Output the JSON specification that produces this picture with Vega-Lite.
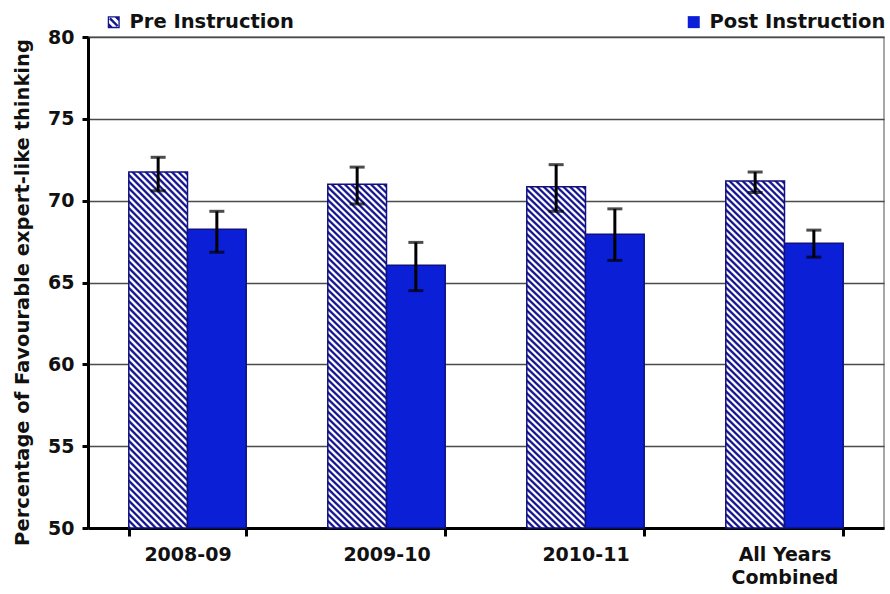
{
  "$schema": "https://vega.github.io/schema/vega-lite/v6.json",
  "width": 796,
  "height": 491,
  "autosize": {"type": "none"},
  "padding": {"left": 88, "top": 37, "right": 6, "bottom": 66},
  "background": "white",
  "config": {
    "font": "DejaVu Sans",
    "view": {"stroke": "#8a8a8a", "strokeWidth": 1.5},
    "legend": {
      "orient": "none",
      "legendX": 16,
      "legendY": -25,
      "direction": "horizontal",
      "columns": 2,
      "columnPadding": 390,
      "symbolSize": 144,
      "symbolOpacity": 1,
      "symbolStrokeWidth": 0,
      "labelFont": "DejaVu Sans",
      "labelFontWeight": "bold",
      "labelFontSize": 19.5,
      "labelLimit": 400,
      "labelColor": "#111",
      "labelOffset": 6
    }
  },
  "data": {
    "values": [
      {"cat": "2008-09", "phase": "Pre Instruction", "value": 71.75, "lo": 70.6, "hi": 72.65},
      {"cat": "2008-09", "phase": "Post Instruction", "value": 68.25, "lo": 66.85, "hi": 69.35},
      {"cat": "2009-10", "phase": "Pre Instruction", "value": 71.0, "lo": 69.8, "hi": 72.05},
      {"cat": "2009-10", "phase": "Post Instruction", "value": 66.05, "lo": 64.5, "hi": 67.45},
      {"cat": "2010-11", "phase": "Pre Instruction", "value": 70.85, "lo": 69.35, "hi": 72.2},
      {"cat": "2010-11", "phase": "Post Instruction", "value": 67.95, "lo": 66.35, "hi": 69.5},
      {"cat": "All Years Combined", "phase": "Pre Instruction", "value": 71.2, "lo": 70.5, "hi": 71.75},
      {"cat": "All Years Combined", "phase": "Post Instruction", "value": 67.4, "lo": 66.55, "hi": 68.2}
    ]
  },
  "encoding": {
    "x": {
      "field": "cat",
      "type": "nominal",
      "sort": null,
      "scale": {"paddingInner": 0.41, "paddingOuter": 0.205},
      "axis": {
        "title": null,
        "labelAngle": 0,
        "labelFont": "DejaVu Sans",
        "labelFontWeight": "bold",
        "labelFontSize": 19,
        "labelColor": "#111",
        "labelPadding": 9,
        "labelLineHeight": 23,
        "labelExpr": "datum.value === 'All Years Combined' ? ['All Years', 'Combined'] : datum.label",
        "domainColor": "black",
        "domainWidth": 3,
        "tickColor": "black",
        "tickWidth": 3,
        "tickSize": 8,
        "tickBand": "extent",
        "grid": false
      }
    },
    "xOffset": {
      "field": "phase",
      "type": "nominal",
      "sort": ["Pre Instruction", "Post Instruction"],
      "scale": {"paddingInner": 0, "paddingOuter": 0}
    }
  },
  "layer": [
    {
      "mark": {"type": "bar", "stroke": "#10107e", "strokeWidth": 1.5},
      "encoding": {
        "y": {
          "field": "value",
          "type": "quantitative",
          "scale": {"domain": [50, 80], "zero": false, "nice": false},
          "axis": {
            "title": "Percentage of Favourable expert-like thinking",
            "titleFont": "DejaVu Sans",
            "titleFontWeight": "bold",
            "titleFontSize": 19.5,
            "titleColor": "#111",
            "titleX": -56,
            "titleY": 255,
            "values": [50, 55, 60, 65, 70, 75, 80],
            "labelFont": "DejaVu Sans",
            "labelFontWeight": "bold",
            "labelFontSize": 19,
            "labelColor": "#111",
            "labelPadding": 8,
            "domainColor": "black",
            "domainWidth": 3,
            "tickColor": "black",
            "tickWidth": 3,
            "tickSize": 6,
            "grid": true,
            "gridColor": "#4a4a4a",
            "gridWidth": 1.3
          }
        },
        "y2": {"datum": 50},
        "fill": {
          "field": "phase",
          "type": "nominal",
          "scale": {"domain": ["Pre Instruction", "Post Instruction"], "range": ["#15158f", "#0B1FD6"]},
          "legend": {"title": null},
          "condition": {
            "test": "datum.phase === 'Pre Instruction'",
            "value": {
              "gradient": "linear", "x1": 0, "y1": 1, "x2": 0.1896, "y2": -0.1355,
              "stops": [
                {"offset": 0, "color": "#15158f"}, {"offset": 0.004, "color": "#15158f"}, {"offset": 0.008, "color": "#fff"}, {"offset": 0.012, "color": "#fff"},
                {"offset": 0.016, "color": "#15158f"}, {"offset": 0.02, "color": "#15158f"}, {"offset": 0.024, "color": "#fff"}, {"offset": 0.028, "color": "#fff"},
                {"offset": 0.032, "color": "#15158f"}, {"offset": 0.036, "color": "#15158f"}, {"offset": 0.04, "color": "#fff"}, {"offset": 0.044, "color": "#fff"},
                {"offset": 0.048, "color": "#15158f"}, {"offset": 0.052, "color": "#15158f"}, {"offset": 0.056, "color": "#fff"}, {"offset": 0.06, "color": "#fff"},
                {"offset": 0.064, "color": "#15158f"}, {"offset": 0.068, "color": "#15158f"}, {"offset": 0.072, "color": "#fff"}, {"offset": 0.076, "color": "#fff"},
                {"offset": 0.08, "color": "#15158f"}, {"offset": 0.084, "color": "#15158f"}, {"offset": 0.088, "color": "#fff"}, {"offset": 0.092, "color": "#fff"},
                {"offset": 0.096, "color": "#15158f"}, {"offset": 0.1, "color": "#15158f"}, {"offset": 0.104, "color": "#fff"}, {"offset": 0.108, "color": "#fff"},
                {"offset": 0.112, "color": "#15158f"}, {"offset": 0.116, "color": "#15158f"}, {"offset": 0.12, "color": "#fff"}, {"offset": 0.124, "color": "#fff"},
                {"offset": 0.128, "color": "#15158f"}, {"offset": 0.132, "color": "#15158f"}, {"offset": 0.136, "color": "#fff"}, {"offset": 0.14, "color": "#fff"},
                {"offset": 0.144, "color": "#15158f"}, {"offset": 0.148, "color": "#15158f"}, {"offset": 0.152, "color": "#fff"}, {"offset": 0.156, "color": "#fff"},
                {"offset": 0.16, "color": "#15158f"}, {"offset": 0.164, "color": "#15158f"}, {"offset": 0.168, "color": "#fff"}, {"offset": 0.172, "color": "#fff"},
                {"offset": 0.176, "color": "#15158f"}, {"offset": 0.18, "color": "#15158f"}, {"offset": 0.184, "color": "#fff"}, {"offset": 0.188, "color": "#fff"},
                {"offset": 0.192, "color": "#15158f"}, {"offset": 0.196, "color": "#15158f"}, {"offset": 0.2, "color": "#fff"}, {"offset": 0.204, "color": "#fff"},
                {"offset": 0.208, "color": "#15158f"}, {"offset": 0.212, "color": "#15158f"}, {"offset": 0.216, "color": "#fff"}, {"offset": 0.22, "color": "#fff"},
                {"offset": 0.224, "color": "#15158f"}, {"offset": 0.228, "color": "#15158f"}, {"offset": 0.232, "color": "#fff"}, {"offset": 0.236, "color": "#fff"},
                {"offset": 0.24, "color": "#15158f"}, {"offset": 0.244, "color": "#15158f"}, {"offset": 0.248, "color": "#fff"}, {"offset": 0.252, "color": "#fff"},
                {"offset": 0.256, "color": "#15158f"}, {"offset": 0.26, "color": "#15158f"}, {"offset": 0.264, "color": "#fff"}, {"offset": 0.268, "color": "#fff"},
                {"offset": 0.272, "color": "#15158f"}, {"offset": 0.276, "color": "#15158f"}, {"offset": 0.28, "color": "#fff"}, {"offset": 0.284, "color": "#fff"},
                {"offset": 0.288, "color": "#15158f"}, {"offset": 0.292, "color": "#15158f"}, {"offset": 0.296, "color": "#fff"}, {"offset": 0.3, "color": "#fff"},
                {"offset": 0.304, "color": "#15158f"}, {"offset": 0.308, "color": "#15158f"}, {"offset": 0.312, "color": "#fff"}, {"offset": 0.316, "color": "#fff"},
                {"offset": 0.32, "color": "#15158f"}, {"offset": 0.324, "color": "#15158f"}, {"offset": 0.328, "color": "#fff"}, {"offset": 0.332, "color": "#fff"},
                {"offset": 0.336, "color": "#15158f"}, {"offset": 0.34, "color": "#15158f"}, {"offset": 0.344, "color": "#fff"}, {"offset": 0.348, "color": "#fff"},
                {"offset": 0.352, "color": "#15158f"}, {"offset": 0.356, "color": "#15158f"}, {"offset": 0.36, "color": "#fff"}, {"offset": 0.364, "color": "#fff"},
                {"offset": 0.368, "color": "#15158f"}, {"offset": 0.372, "color": "#15158f"}, {"offset": 0.376, "color": "#fff"}, {"offset": 0.38, "color": "#fff"},
                {"offset": 0.384, "color": "#15158f"}, {"offset": 0.388, "color": "#15158f"}, {"offset": 0.392, "color": "#fff"}, {"offset": 0.396, "color": "#fff"},
                {"offset": 0.4, "color": "#15158f"}, {"offset": 0.404, "color": "#15158f"}, {"offset": 0.408, "color": "#fff"}, {"offset": 0.412, "color": "#fff"},
                {"offset": 0.416, "color": "#15158f"}, {"offset": 0.42, "color": "#15158f"}, {"offset": 0.424, "color": "#fff"}, {"offset": 0.428, "color": "#fff"},
                {"offset": 0.432, "color": "#15158f"}, {"offset": 0.436, "color": "#15158f"}, {"offset": 0.44, "color": "#fff"}, {"offset": 0.444, "color": "#fff"},
                {"offset": 0.448, "color": "#15158f"}, {"offset": 0.452, "color": "#15158f"}, {"offset": 0.456, "color": "#fff"}, {"offset": 0.46, "color": "#fff"},
                {"offset": 0.464, "color": "#15158f"}, {"offset": 0.468, "color": "#15158f"}, {"offset": 0.472, "color": "#fff"}, {"offset": 0.476, "color": "#fff"},
                {"offset": 0.48, "color": "#15158f"}, {"offset": 0.484, "color": "#15158f"}, {"offset": 0.488, "color": "#fff"}, {"offset": 0.492, "color": "#fff"},
                {"offset": 0.496, "color": "#15158f"}, {"offset": 0.5, "color": "#15158f"}, {"offset": 0.504, "color": "#fff"}, {"offset": 0.508, "color": "#fff"},
                {"offset": 0.512, "color": "#15158f"}, {"offset": 0.516, "color": "#15158f"}, {"offset": 0.52, "color": "#fff"}, {"offset": 0.524, "color": "#fff"},
                {"offset": 0.528, "color": "#15158f"}, {"offset": 0.532, "color": "#15158f"}, {"offset": 0.536, "color": "#fff"}, {"offset": 0.54, "color": "#fff"},
                {"offset": 0.544, "color": "#15158f"}, {"offset": 0.548, "color": "#15158f"}, {"offset": 0.552, "color": "#fff"}, {"offset": 0.556, "color": "#fff"},
                {"offset": 0.56, "color": "#15158f"}, {"offset": 0.564, "color": "#15158f"}, {"offset": 0.568, "color": "#fff"}, {"offset": 0.572, "color": "#fff"},
                {"offset": 0.576, "color": "#15158f"}, {"offset": 0.58, "color": "#15158f"}, {"offset": 0.584, "color": "#fff"}, {"offset": 0.588, "color": "#fff"},
                {"offset": 0.592, "color": "#15158f"}, {"offset": 0.596, "color": "#15158f"}, {"offset": 0.6, "color": "#fff"}, {"offset": 0.604, "color": "#fff"},
                {"offset": 0.608, "color": "#15158f"}, {"offset": 0.612, "color": "#15158f"}, {"offset": 0.616, "color": "#fff"}, {"offset": 0.62, "color": "#fff"},
                {"offset": 0.624, "color": "#15158f"}, {"offset": 0.628, "color": "#15158f"}, {"offset": 0.632, "color": "#fff"}, {"offset": 0.636, "color": "#fff"},
                {"offset": 0.64, "color": "#15158f"}, {"offset": 0.644, "color": "#15158f"}, {"offset": 0.648, "color": "#fff"}, {"offset": 0.652, "color": "#fff"},
                {"offset": 0.656, "color": "#15158f"}, {"offset": 0.66, "color": "#15158f"}, {"offset": 0.664, "color": "#fff"}, {"offset": 0.668, "color": "#fff"},
                {"offset": 0.672, "color": "#15158f"}, {"offset": 0.676, "color": "#15158f"}, {"offset": 0.68, "color": "#fff"}, {"offset": 0.684, "color": "#fff"},
                {"offset": 0.688, "color": "#15158f"}, {"offset": 0.692, "color": "#15158f"}, {"offset": 0.696, "color": "#fff"}, {"offset": 0.7, "color": "#fff"},
                {"offset": 0.704, "color": "#15158f"}, {"offset": 0.708, "color": "#15158f"}, {"offset": 0.712, "color": "#fff"}, {"offset": 0.716, "color": "#fff"},
                {"offset": 0.72, "color": "#15158f"}, {"offset": 0.724, "color": "#15158f"}, {"offset": 0.728, "color": "#fff"}, {"offset": 0.732, "color": "#fff"},
                {"offset": 0.736, "color": "#15158f"}, {"offset": 0.74, "color": "#15158f"}, {"offset": 0.744, "color": "#fff"}, {"offset": 0.748, "color": "#fff"},
                {"offset": 0.752, "color": "#15158f"}, {"offset": 0.756, "color": "#15158f"}, {"offset": 0.76, "color": "#fff"}, {"offset": 0.764, "color": "#fff"},
                {"offset": 0.768, "color": "#15158f"}, {"offset": 0.772, "color": "#15158f"}, {"offset": 0.776, "color": "#fff"}, {"offset": 0.78, "color": "#fff"},
                {"offset": 0.784, "color": "#15158f"}, {"offset": 0.788, "color": "#15158f"}, {"offset": 0.792, "color": "#fff"}, {"offset": 0.796, "color": "#fff"},
                {"offset": 0.8, "color": "#15158f"}, {"offset": 0.804, "color": "#15158f"}, {"offset": 0.808, "color": "#fff"}, {"offset": 0.812, "color": "#fff"},
                {"offset": 0.816, "color": "#15158f"}, {"offset": 0.82, "color": "#15158f"}, {"offset": 0.824, "color": "#fff"}, {"offset": 0.828, "color": "#fff"},
                {"offset": 0.832, "color": "#15158f"}, {"offset": 0.836, "color": "#15158f"}, {"offset": 0.84, "color": "#fff"}, {"offset": 0.844, "color": "#fff"},
                {"offset": 0.848, "color": "#15158f"}, {"offset": 0.852, "color": "#15158f"}, {"offset": 0.856, "color": "#fff"}, {"offset": 0.86, "color": "#fff"},
                {"offset": 0.864, "color": "#15158f"}, {"offset": 0.868, "color": "#15158f"}, {"offset": 0.872, "color": "#fff"}, {"offset": 0.876, "color": "#fff"},
                {"offset": 0.88, "color": "#15158f"}, {"offset": 0.884, "color": "#15158f"}, {"offset": 0.888, "color": "#fff"}, {"offset": 0.892, "color": "#fff"},
                {"offset": 0.896, "color": "#15158f"}, {"offset": 0.9, "color": "#15158f"}, {"offset": 0.904, "color": "#fff"}, {"offset": 0.908, "color": "#fff"},
                {"offset": 0.912, "color": "#15158f"}, {"offset": 0.916, "color": "#15158f"}, {"offset": 0.92, "color": "#fff"}, {"offset": 0.924, "color": "#fff"},
                {"offset": 0.928, "color": "#15158f"}, {"offset": 0.932, "color": "#15158f"}, {"offset": 0.936, "color": "#fff"}, {"offset": 0.94, "color": "#fff"},
                {"offset": 0.944, "color": "#15158f"}, {"offset": 0.948, "color": "#15158f"}, {"offset": 0.952, "color": "#fff"}, {"offset": 0.956, "color": "#fff"},
                {"offset": 0.96, "color": "#15158f"}, {"offset": 0.964, "color": "#15158f"}, {"offset": 0.968, "color": "#fff"}, {"offset": 0.972, "color": "#fff"},
                {"offset": 0.976, "color": "#15158f"}, {"offset": 0.98, "color": "#15158f"}, {"offset": 0.984, "color": "#fff"}, {"offset": 0.988, "color": "#fff"},
                {"offset": 0.992, "color": "#15158f"}, {"offset": 0.996, "color": "#15158f"}, {"offset": 1, "color": "#fff"}
              ]
            }
          }
        }
      }
    },
    {
      "mark": {"type": "point", "filled": true, "opacity": 0},
      "encoding": {
        "y": {"field": "value", "type": "quantitative"},
        "fill": {
          "field": "phase",
          "type": "nominal",
          "scale": {"domain": ["Pre Instruction", "Post Instruction"], "range": ["#15158f", "#0B1FD6"]},
          "legend": {"title": null}
        },
        "shape": {
          "field": "phase",
          "type": "nominal",
          "scale": {
            "domain": ["Pre Instruction", "Post Instruction"],
            "range": ["M-1,-1H1V1H-1Z M-0.78,-0.78V0.78H0.78V-0.78Z M-0.78,-0.5L-0.5,-0.78L0.78,0.5L0.5,0.78Z M0.2,-0.78L0.78,-0.78L0.78,-0.2Z M-0.78,0.2L-0.78,0.78L-0.2,0.78Z", "square"]
          },
          "legend": {"title": null}
        }
      }
    },
    {
      "mark": {"type": "rule", "color": "black", "strokeWidth": 3},
      "encoding": {
        "y": {"field": "lo", "type": "quantitative"},
        "y2": {"field": "hi"}
      }
    },
    {
      "mark": {"type": "tick", "color": "black", "thickness": 3, "size": 15, "orient": "horizontal"},
      "encoding": {
        "y": {"field": "lo", "type": "quantitative"}
      }
    },
    {
      "mark": {"type": "tick", "color": "black", "thickness": 3, "size": 15, "orient": "horizontal"},
      "encoding": {
        "y": {"field": "hi", "type": "quantitative"}
      }
    }
  ]
}
